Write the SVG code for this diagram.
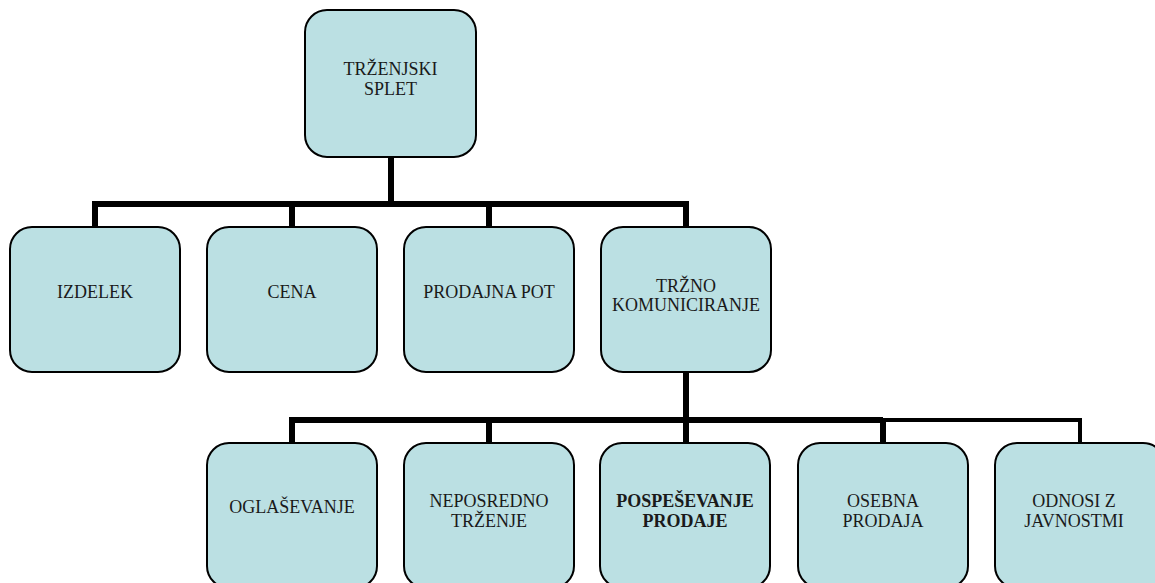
<svg xmlns="http://www.w3.org/2000/svg" width="1155" height="583" viewBox="0 0 1155 583">
<style>
.box{fill:#BBE0E3;stroke:#000;stroke-width:2}
.t{font-family:"Liberation Serif","Times New Roman",serif;font-size:18px;fill:#1a1a1a;text-anchor:middle}
.b{font-weight:bold}
.c{fill:none;stroke:#000;stroke-width:6;stroke-linejoin:miter;stroke-linecap:butt}
.c2{fill:none;stroke:#000;stroke-width:4}
</style>
<rect width="1155" height="583" fill="#fff"/>
<g id="connectors">
<path class="c" d="M391 157 V204 M95 227 V204 H686 V227 M292 204 V227 M489 204 V227"/>
<path class="c" d="M686 372 V420 M292 443 V420 H883 M489 420 V443 M686 420 V443"/>
<path class="c2" d="M883 420 H1080 V443 M883 420 V443"/>
<path class="c" d="M883 420 V443"/>
</g>
<g id="n-trzenjski-splet"><rect class="box" x="305" y="10" width="171" height="147" rx="22"/><text class="t" x="390.5" y="75">TRŽENJSKI</text><text class="t" x="390.5" y="95">SPLET</text></g>
<g id="n-izdelek"><rect class="box" x="10" y="227" width="170" height="145" rx="22"/><text class="t" x="95" y="298">IZDELEK</text></g>
<g id="n-cena"><rect class="box" x="207" y="227" width="170" height="145" rx="22"/><text class="t" x="292" y="298">CENA</text></g>
<g id="n-prodajna-pot"><rect class="box" x="404" y="227" width="170" height="145" rx="22"/><text class="t" x="489" y="298">PRODAJNA POT</text></g>
<g id="n-trzno-komuniciranje"><rect class="box" x="601" y="227" width="170" height="145" rx="22"/><text class="t" x="686" y="292">TRŽNO</text><text class="t" x="686" y="311">KOMUNICIRANJE</text></g>
<g id="n-oglasevanje"><rect class="box" x="207" y="443" width="170" height="145" rx="22"/><text class="t" x="292" y="513">OGLAŠEVANJE</text></g>
<g id="n-neposredno-trzenje"><rect class="box" x="404" y="443" width="170" height="145" rx="22"/><text class="t" x="489" y="507">NEPOSREDNO</text><text class="t" x="489" y="527">TRŽENJE</text></g>
<g id="n-pospesevanje-prodaje"><rect class="box" x="600" y="443" width="170" height="145" rx="22"/><text class="t b" x="685" y="507">POSPEŠEVANJE</text><text class="t b" x="685" y="527">PRODAJE</text></g>
<g id="n-osebna-prodaja"><rect class="box" x="798" y="443" width="170" height="145" rx="22"/><text class="t" x="883" y="507">OSEBNA</text><text class="t" x="883" y="527">PRODAJA</text></g>
<g id="n-odnosi-z-javnostmi"><rect class="box" x="995" y="443" width="170" height="145" rx="22"/><text class="t" x="1074" y="507">ODNOSI Z</text><text class="t" x="1074" y="527">JAVNOSTMI</text></g>
</svg>
